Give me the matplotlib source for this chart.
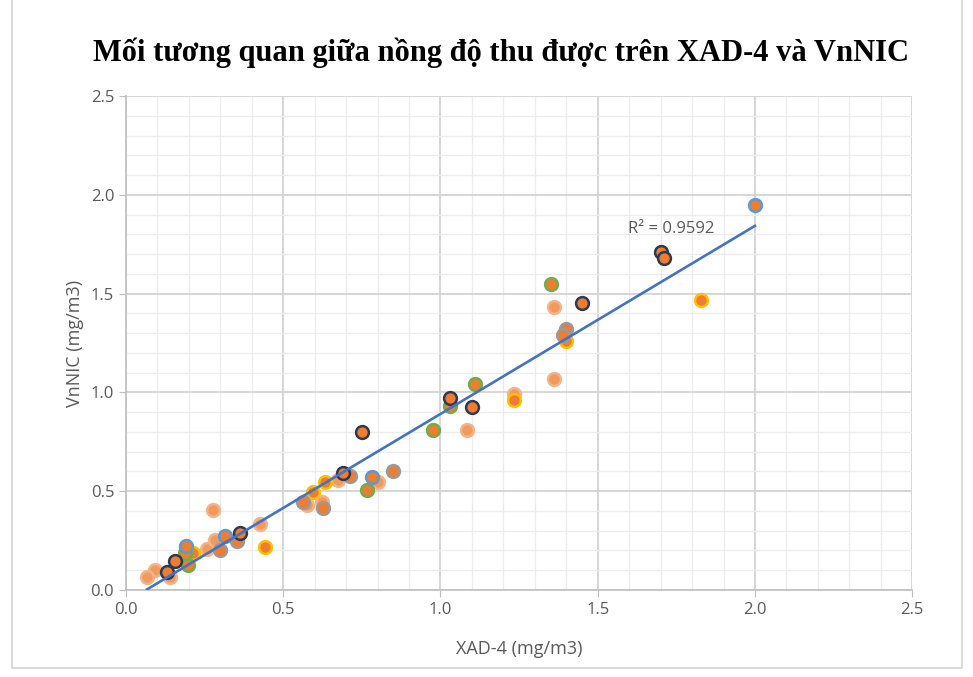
import numpy as np
import matplotlib
matplotlib.use('Agg')
import matplotlib.pyplot as plt
from matplotlib.lines import Line2D
from matplotlib.ticker import MultipleLocator, FormatStrFormatter

# XAD-4 (x) vs VnNIC (y), grouped by marker outline as seen in the picture
dark_x = [1.70, 1.71, 1.45, 1.03, 1.10, 0.75, 0.69, 0.363, 0.156, 0.13]
dark_y = [1.71, 1.68, 1.45, 0.97, 0.925, 0.80, 0.59, 0.29, 0.147, 0.09]

grey_x = [1.40, 1.39, 0.85, 0.712, 0.627, 0.563, 0.353, 0.30]
grey_y = [1.32, 1.29, 0.603, 0.577, 0.415, 0.445, 0.25, 0.20]

green_x = [1.35, 1.11, 1.03, 0.975, 0.766, 0.197, 0.188]
green_y = [1.55, 1.04, 0.93, 0.81, 0.506, 0.127, 0.187]

yellow_x = [1.83, 1.40, 1.235, 0.443, 0.595, 0.633, 0.213]
yellow_y = [1.47, 1.26, 0.96, 0.218, 0.496, 0.547, 0.187]

light_x = [1.36, 1.36, 1.085, 1.235, 0.277, 0.426, 0.092, 0.067, 0.14, 0.258, 0.283, 0.575, 0.623, 0.674, 0.80]
light_y = [1.43, 1.07, 0.81, 0.99, 0.405, 0.334, 0.10, 0.066, 0.066, 0.207, 0.253, 0.43, 0.445, 0.557, 0.547]

blue_x = [2.0, 0.19, 0.315, 0.782]
blue_y = [1.95, 0.223, 0.273, 0.572]

groups = [
    (light_x, light_y, '#F29A5C', '#F2B48A'),
    (yellow_x, yellow_y, '#ED7D31', '#FFC000'),
    (green_x, green_y, '#ED7D31', '#70AD47'),
    (grey_x, grey_y, '#ED7D31', '#9A9A9A'),
    (blue_x, blue_y, '#ED7D31', '#5B9BD5'),
    (dark_x, dark_y, '#ED7D31', '#2F3A52'),
]

r2_label = 'R² = 0.9592'

fig = plt.figure(figsize=(9.73, 6.77), dpi=100)
ax = fig.add_axes([0.1295, 0.1285, 0.808, 0.7297])

grey = '#595959'
ax.set_xlim(0, 2.5)
ax.set_ylim(0, 2.5)
ax.xaxis.set_major_locator(MultipleLocator(0.5))
ax.yaxis.set_major_locator(MultipleLocator(0.5))
ax.xaxis.set_minor_locator(MultipleLocator(0.1))
ax.yaxis.set_minor_locator(MultipleLocator(0.1))
ax.grid(which='major', color='#D0D0D0', linewidth=1.2)
ax.grid(which='minor', color='#ECECEC', linewidth=0.9)
ax.set_axisbelow(True)
for s in ['top', 'right']:
    ax.spines[s].set_visible(False)
for s in ['left', 'bottom']:
    ax.spines[s].set_color('#BFBFBF')
    ax.spines[s].set_linewidth(1.2)
ax.tick_params(which='major', direction='out', length=5, color='#BFBFBF',
               labelcolor=grey, labelsize=12)
ax.tick_params(which='minor', length=0)
ax.xaxis.set_major_formatter(FormatStrFormatter('%.1f'))
ax.yaxis.set_major_formatter(FormatStrFormatter('%.1f'))
for lbl in ax.get_xticklabels() + ax.get_yticklabels():
    lbl.set_family('Open Sans')

for gx, gy, fc, ec in groups:
    ax.scatter(gx, gy, s=85, facecolor=fc, edgecolor=ec, linewidth=1.8, zorder=3)

# linear trendline over all points
all_x = np.concatenate([np.array(g[0]) for g in groups])
all_y = np.concatenate([np.array(g[1]) for g in groups])
k, b = np.polyfit(all_x, all_y, 1)
lx = np.array([all_x.min(), all_x.max()])
ax.plot(lx, k * lx + b, color='#4472C4', linewidth=1.9, zorder=4)
ax.text(1.597, 1.827, r2_label, color=grey, fontsize=12, family='Open Sans',
        va='center', ha='left', zorder=5)

ax.set_xlabel('XAD-4 (mg/m3)', color=grey, fontsize=13, family='Open Sans', labelpad=16)
ax.set_ylabel('VnNIC (mg/m3)', color=grey, fontsize=13, family='Open Sans', labelpad=5)

fig.text(0.515, 0.922, 'Mối tương quan giữa nồng độ thu được trên XAD-4 và VnNIC',
         ha='center', va='center', fontsize=22, fontweight='bold',
         family='Liberation Serif', color='black')

# chart-area frame (left, bottom, right only)
fx = [12 / 973, 12 / 973, 962 / 973, 962 / 973]
fy = [1.0, 9 / 677, 9 / 677, 1.0]
fig.add_artist(Line2D(fx, fy, transform=fig.transFigure, color='#D9D9D9', linewidth=1.3))

fig.savefig('out.png', dpi=100)
